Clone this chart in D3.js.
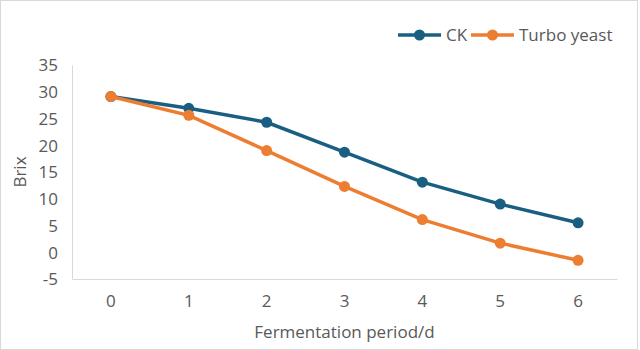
<!DOCTYPE html>
<html>
<head>
<meta charset="utf-8">
<script src="https://cdn.jsdelivr.net/npm/d3@7"></script>
<style>
  body { margin: 0; background: #fff; }
  text { font-family: "Open Sans", sans-serif; fill: #595959; }
</style>
</head>
<body>
<div id="chart"></div>
<script>
// data
var days = ["0", "1", "2", "3", "4", "5", "6"];
var ck = [29.1, 26.9, 24.3, 18.7, 13.1, 9.0, 5.5];
var turbo = [29.1, 25.6, 19.0, 12.3, 6.1, 1.7, -1.5];
var yTicks = [-5, 0, 5, 10, 15, 20, 25, 30, 35];
var seriesNames = ["CK", "Turbo yeast"];
var seriesColors = ["#1a5e82", "#ed7d31"];

var W = 640, H = 350;
var margin = {top: 65, right: 23, bottom: 71, left: 72},
    width = W - margin.left - margin.right,
    height = H - margin.top - margin.bottom;

var svg = d3.select("#chart").append("svg")
    .attr("width", W)
    .attr("height", H);

// outer border
svg.append("rect")
    .attr("x", 0.5).attr("y", 0.5)
    .attr("width", W - 3).attr("height", H - 1)
    .attr("fill", "none")
    .attr("stroke", "#d9d9d9");

var g = svg.append("g")
    .attr("transform", "translate(" + margin.left + "," + margin.top + ")");

var x = d3.scaleBand().domain(days).range([0, width]);
var y = d3.scaleLinear().domain([-5, 35]).range([height, 0]);

// y axis
var yAxis = g.append("g")
    .call(d3.axisLeft(y).tickValues(yTicks).tickSize(0).tickPadding(14).tickFormat(function(d) { return String(d); }));
yAxis.select(".domain").attr("stroke", "#d9d9d9");
yAxis.selectAll("text").style("font-size", "17px").attr("fill", "#595959").attr("dy", "0.35em");

// x axis
var xAxis = g.append("g")
    .attr("transform", "translate(0," + height + ")")
    .call(d3.axisBottom(x).tickSize(0).tickPadding(16));
xAxis.select(".domain").attr("stroke", "#d9d9d9");
xAxis.selectAll("text").style("font-size", "17px").attr("fill", "#595959");

// axis titles
svg.append("text")
    .attr("transform", "translate(26," + (margin.top + height / 2) + ") rotate(-90)")
    .attr("text-anchor", "middle")
    .style("font-size", "17px")
    .text("Brix");

svg.append("text")
    .attr("x", margin.left + width / 2)
    .attr("y", 338)
    .attr("text-anchor", "middle")
    .style("font-size", "17px")
    .text("Fermentation period/d");

// lines
var line = d3.line()
    .x(function(d, i) { return x(days[i]) + x.bandwidth() / 2; })
    .y(function(d) { return y(d); });

[ck, turbo].forEach(function(s, k) {
    g.append("path")
        .datum(s)
        .attr("fill", "none")
        .attr("stroke", seriesColors[k])
        .attr("stroke-width", 3.5)
        .attr("d", line);
    g.selectAll(".pt" + k)
        .data(s)
        .enter().append("circle")
        .attr("class", "pt" + k)
        .attr("cx", function(d, i) { return x(days[i]) + x.bandwidth() / 2; })
        .attr("cy", function(d) { return y(d); })
        .attr("r", 5.5)
        .attr("fill", seriesColors[k]);
});

// legend
var legendX = [398, 471];
seriesNames.forEach(function(name, k) {
    var lg = svg.append("g").attr("transform", "translate(" + legendX[k] + ",35)");
    lg.append("line")
        .attr("x1", 0).attr("x2", 43)
        .attr("stroke", seriesColors[k])
        .attr("stroke-width", 3.5);
    lg.append("circle")
        .attr("cx", 21.5).attr("r", 5.5)
        .attr("fill", seriesColors[k]);
    lg.append("text")
        .attr("x", 48)
        .attr("dy", "0.35em")
        .style("font-size", "17px")
        .text(name);
});
</script>
</body>
</html>
